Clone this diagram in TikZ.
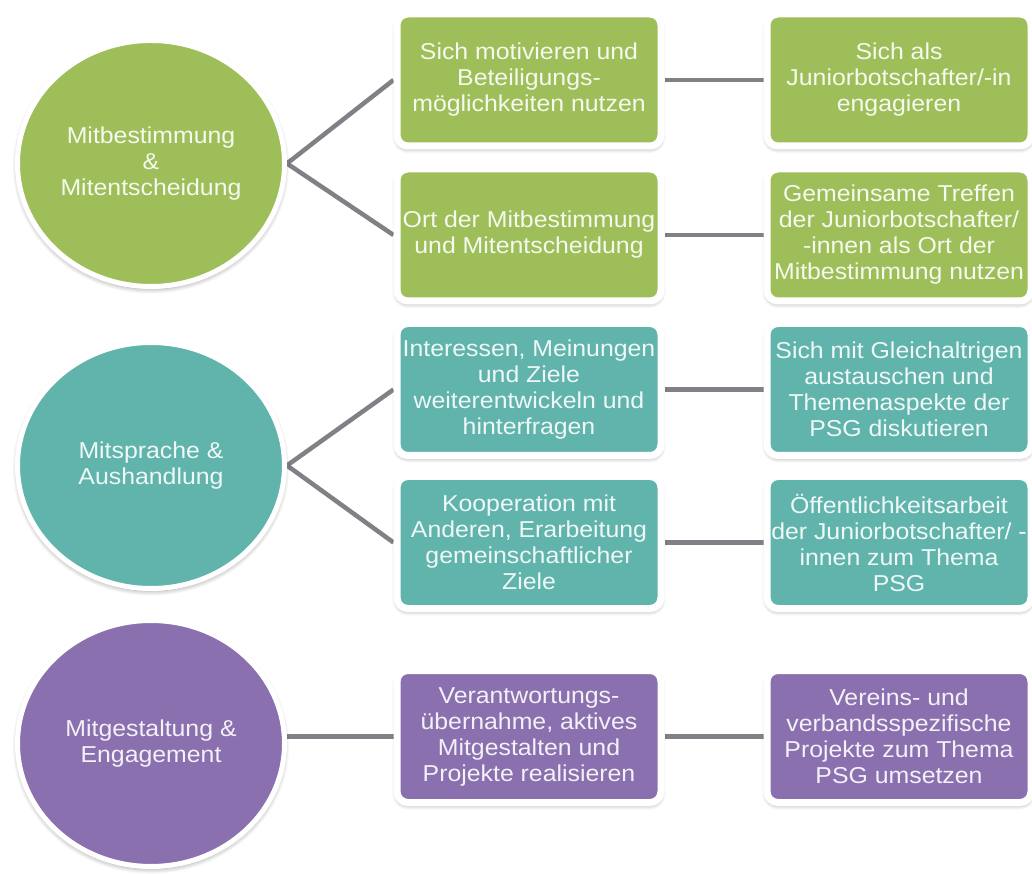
\documentclass[tikz,border=0pt]{standalone}
\usepackage{fontspec}
\setmainfont{Liberation Sans}[FakeStretch=1.08]
\usetikzlibrary{shapes.geometric,shadows.blur,backgrounds}

\definecolor{leaf}{RGB}{158,190,90}
\definecolor{sea}{RGB}{96,180,172}
\definecolor{plum}{RGB}{138,112,174}
\definecolor{wire}{RGB}{128,128,134}

\tikzset{
  lbl/.style={font=\fontsize{23}{26}\selectfont, align=center},
  softshadow/.style={blur shadow={shadow xshift=0pt, shadow yshift=-2.5pt,
      shadow opacity=40, shadow blur steps=8, shadow blur radius=5pt}},
  topic/.style={lbl, ellipse, draw=white, line width=5pt,
      minimum width=267pt, minimum height=246pt, inner sep=0pt, softshadow},
  item/.style={lbl, rectangle, rounded corners=11pt, draw=white, line width=7pt,
      minimum width=264pt, minimum height=132pt, inner sep=0pt, softshadow},
  greenfill/.style={fill=leaf, text=leaf!10!white},
  tealfill/.style={fill=sea, text=sea!10!white},
  purplefill/.style={fill=plum, text=plum!10!white},
  link/.style={draw=wire, line width=4.5pt},
}

\begin{document}
\begin{tikzpicture}[x=1pt,y=1pt]
\useasboundingbox (0,0) rectangle (1032,873);

% circles
\node[topic, greenfill]  (c1) at (151,709.5) {Mitbestimmung\\\&\\Mitentscheidung};
\node[topic, tealfill]   (c2) at (151,407.5) {Mitsprache \&\\Aushandlung};
\node[topic, purplefill] (c3) at (151,129.5) {Mitgestaltung \&\\Engagement};

% first column
\node[item, greenfill]  (a1) at (529,793)   {Sich motivieren und\\Beteiligungs-\\möglichkeiten nutzen};
\node[item, greenfill]  (a2) at (529,638)   {Ort der Mitbestimmung\\und Mitentscheidung};
\node[item, tealfill]   (a3) at (529,483.5) {Interessen, Meinungen\\und Ziele\\weiterentwickeln und\\hinterfragen};
\node[item, tealfill]   (a4) at (529,330.5) {Kooperation mit\\Anderen, Erarbeitung\\gemeinschaftlicher\\Ziele};
\node[item, purplefill] (a5) at (529,136.5) {Verantwortungs-\\übernahme, aktives\\Mitgestalten und\\Projekte realisieren};

% second column
\node[item, greenfill]  (b1) at (899,793)   {Sich als\\Juniorbotschafter/-in\\engagieren};
\node[item, greenfill]  (b2) at (899,638)   {Gemeinsame Treffen\\der Juniorbotschafter/\\-innen als Ort der\\Mitbestimmung nutzen};
\node[item, tealfill]   (b3) at (899,483.5) {Sich mit Gleichaltrigen\\austauschen und\\Themenaspekte der\\PSG diskutieren};
\node[item, tealfill]   (b4) at (899,330.5) {Öffentlichkeitsarbeit\\der Juniorbotschafter/ -\\innen zum Thema\\PSG};
\node[item, purplefill] (b5) at (899,136.5) {Vereins- und\\verbandsspezifische\\Projekte zum Thema\\PSG umsetzen};

% connectors behind the shapes
\begin{pgfonlayer}{background}
  \draw[link] (c1.east) -- (a1.west);
  \draw[link] (c1.east) -- (a2.west);
  \draw[link] (c2.east) -- (a3.west);
  \draw[link] (c2.east) -- (a4.west);
  \draw[link] (a5.west -| c3.east) -- (a5.west);
  \draw[link] (a1.east) -- (b1.west);
  \draw[link] (a2.east) -- (b2.west);
  \draw[link] (a3.east) -- (b3.west);
  \draw[link] (a4.east) -- (b4.west);
  \draw[link] (a5.east) -- (b5.west);
\end{pgfonlayer}
\end{tikzpicture}
\end{document}
